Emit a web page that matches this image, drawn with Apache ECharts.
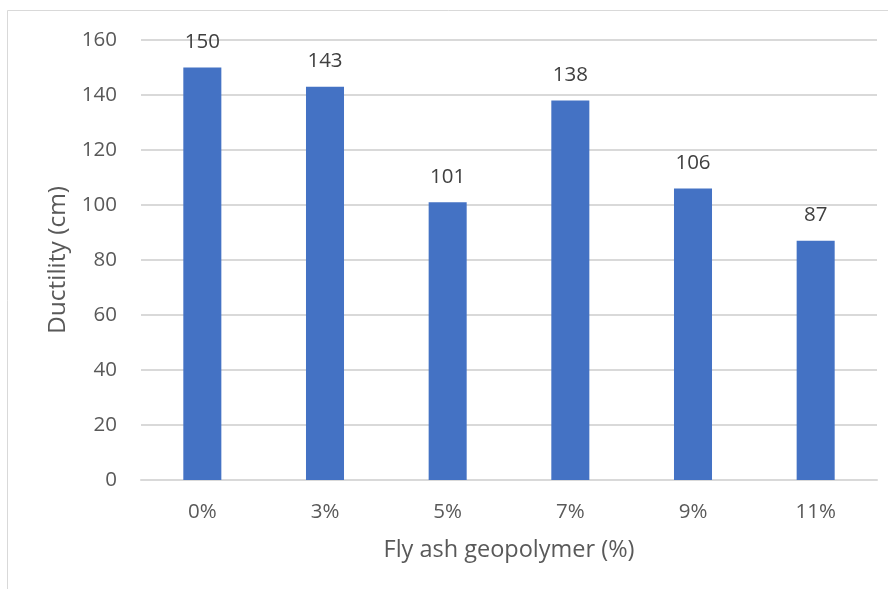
<!DOCTYPE html>
<html>
<head>
<meta charset="utf-8">
<script src="https://cdn.jsdelivr.net/npm/echarts@6/dist/echarts.min.js"></script>
<style>
  html, body { margin: 0; padding: 0; background: #fff; }
  #chart { width: 888px; height: 589px; }
</style>
</head>
<body>
<div id="chart"></div>
<script>
// Fly ash geopolymer content and measured ductility
const categories = ['0%', '3%', '5%', '7%', '9%', '11%'];
const ductility = [150, 143, 101, 138, 106, 87];
const yTicks = { min: 0, max: 160, interval: 20 };

const FONT = '"Open Sans", Lato, sans-serif';

const chart = echarts.init(document.getElementById('chart'), null, { renderer: 'canvas' });
chart.setOption({
  backgroundColor: '#ffffff',
  animation: false,
  graphic: [{
    type: 'rect',
    shape: { x: 7.5, y: 10.5, width: 900, height: 600 },
    style: { fill: 'none', stroke: '#d9d9d9', lineWidth: 1 },
    silent: true
  }],
  grid: { left: 141, right: 11, top: 40, bottom: 109, containLabel: false },
  xAxis: {
    type: 'category',
    data: categories,
    name: 'Fly ash geopolymer (%)',
    nameLocation: 'middle',
    nameGap: 58,
    nameTextStyle: { fontFamily: FONT, fontSize: 23.5, color: '#595959' },
    axisLine: { show: true, lineStyle: { color: '#d9d9d9', width: 2 } },
    axisTick: { show: false },
    axisLabel: { fontFamily: FONT, fontSize: 20.5, color: '#595959', margin: 22 }
  },
  yAxis: {
    type: 'value',
    min: yTicks.min,
    max: yTicks.max,
    interval: yTicks.interval,
    name: 'Ductility (cm)',
    nameLocation: 'middle',
    nameGap: 69,
    nameTextStyle: { fontFamily: FONT, fontSize: 24.5, color: '#595959' },
    axisLine: { show: false },
    axisTick: { show: false },
    axisLabel: { fontFamily: FONT, fontSize: 20.5, color: '#595959', margin: 24 },
    splitLine: { lineStyle: { color: '#d9d9d9', width: 2 } }
  },
  series: [{
    type: 'bar',
    data: ductility,
    barWidth: '31%',
    itemStyle: { color: '#4472C4' },
    label: {
      show: true,
      position: 'top',
      distance: 15,
      fontFamily: FONT,
      fontSize: 20.5,
      color: '#404040'
    }
  }]
});
</script>
</body>
</html>
